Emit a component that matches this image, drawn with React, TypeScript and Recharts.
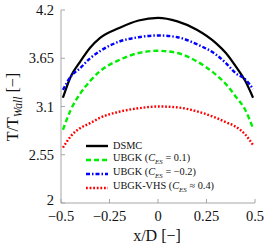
import { LineChart, Line, XAxis, YAxis, Legend } from "recharts";

const xPos = [-0.49, -0.45, -0.4, -0.35, -0.3, -0.2, -0.1, 0, 0.1, 0.2, 0.3, 0.35, 0.4, 0.45, 0.49];

const dsmc = [3.2, 3.44, 3.615, 3.77, 3.88, 3.995, 4.08, 4.11, 4.07, 3.975, 3.82, 3.71, 3.56, 3.39, 3.2];
const ubgkPos = [2.835, 3.06, 3.25, 3.39, 3.5, 3.63, 3.71, 3.735, 3.71, 3.615, 3.46, 3.355, 3.215, 3.06, 2.85];
const ubgkNeg = [3.29, 3.44, 3.54, 3.65, 3.73, 3.84, 3.89, 3.91, 3.89, 3.81, 3.69, 3.595, 3.48, 3.41, 3.3];
const ubgkVhs = [2.63, 2.76, 2.855, 2.91, 2.97, 3.04, 3.08, 3.1, 3.09, 3.045, 2.97, 2.92, 2.87, 2.78, 2.66];

const xTicks = [-0.5, -0.25, 0, 0.25, 0.5];
const yTicks = [2, 2.55, 3.1, 3.65, 4.2];

const data = xPos.map((x, i) => ({
  x,
  dsmc: dsmc[i],
  ubgkPos: ubgkPos[i],
  ubgkNeg: ubgkNeg[i],
  ubgkVhs: ubgkVhs[i],
}));

const FONT = "'Liberation Serif', serif";
const GRAY = "#a6a6a6";

const fmt = (v: number) => (v < 0 ? "\u2212" + Math.abs(v) : String(v));

// lowest y label is nudged up a touch so it doesn't collide with "−0.5"
function YTick(props: any) {
  const { x, y, payload } = props;
  const shift = payload.value === yTicks[0] ? -3 : 0;
  return (
    <text x={x} y={y + shift} dy="0.355em" textAnchor="end" fill="#111" fontFamily={FONT} fontSize={14.5}>
      {fmt(payload.value)}
    </text>
  );
}

const legendRows = [
  { color: "#000000", dash: undefined, text: "DSMC", sub: null },
  { color: "#00ee00", dash: "5 3", text: "UBGK (", sub: "= 0.1)" },
  { color: "#0000ff", dash: "4 2 1.5 2", text: "UBGK (", sub: "= \u22120.2)" },
  { color: "#ff0000", dash: "1.8 1.8", text: "UBGK-VHS (", sub: "\u2248 0.4)" },
];

function renderLegend() {
  return (
    <div style={{ fontFamily: FONT, fontSize: 10.3, color: "#111" }}>
      {legendRows.map((r, i) => (
        <div key={i} style={{ display: "flex", alignItems: "center", height: 14, whiteSpace: "nowrap" }}>
          <svg width={22} height={6} style={{ marginRight: 5 }}>
            <line x1={0} y1={3} x2={22} y2={3} stroke={r.color} strokeWidth={2.4} strokeDasharray={r.dash} />
          </svg>
          <span>
            {r.text}
            {r.sub !== null && (
              <>
                <i>C</i>
                <sub style={{ fontSize: 7 }}>
                  <i>ES</i>
                </sub>{" "}
                {r.sub}
              </>
            )}
          </span>
        </div>
      ))}
    </div>
  );
}

export default function App() {
  return (
    <div style={{ position: "absolute", left: 0, top: 0 }}>
      <LineChart width={270} height={250} data={data} margin={{ top: 10, right: 15, left: 0, bottom: 0 }}>
        <XAxis
          dataKey="x"
          type="number"
          domain={[-0.5, 0.5]}
          ticks={xTicks}
          tickFormatter={fmt}
          height={47}
          tickSize={-4}
          tickMargin={12}
          stroke={GRAY}
          tick={{ fill: "#111", fontFamily: FONT, fontSize: 14.5 }}
          allowDataOverflow
        />
        <XAxis
          xAxisId="top"
          dataKey="x"
          type="number"
          orientation="top"
          domain={[-0.5, 0.5]}
          ticks={xTicks}
          height={0}
          tickSize={-4}
          tick={false}
          stroke={GRAY}
        />
        <YAxis
          type="number"
          domain={[2, 4.2]}
          ticks={yTicks}
          width={61}
          tickSize={-4}
          tickMargin={11}
          stroke={GRAY}
          tick={YTick}
          allowDataOverflow
        />
        <YAxis
          yAxisId="right"
          type="number"
          orientation="right"
          domain={[2, 4.2]}
          ticks={yTicks}
          width={0}
          tickSize={-4}
          tick={false}
          stroke={GRAY}
        />
        <Legend
          layout="vertical"
          align="center"
          verticalAlign="middle"
          content={renderLegend}
          wrapperStyle={{ left: 86, top: 138.5, width: "auto" }}
        />
        <Line type="monotone" dataKey="dsmc" stroke="#000000" strokeWidth={2.2} dot={false} isAnimationActive={false} />
        <Line type="monotone" dataKey="ubgkPos" stroke="#00ee00" strokeWidth={2.4} strokeDasharray="5 3" dot={false} isAnimationActive={false} />
        <Line type="monotone" dataKey="ubgkNeg" stroke="#0000ff" strokeWidth={2.4} strokeDasharray="4 2 1.5 2" dot={false} isAnimationActive={false} />
        <Line type="monotone" dataKey="ubgkVhs" stroke="#ff0000" strokeWidth={2.4} strokeDasharray="1.8 1.8" dot={false} isAnimationActive={false} />
        <text x={0} y={0} transform="translate(18,107) rotate(-90)" textAnchor="middle" fontFamily={FONT} fontSize={16} fill="#111">
          T/T<tspan fontSize={11.5} fontStyle="italic" dy={3.5}>Wall</tspan>
          <tspan dy={-3.5}> [&#x2212;]</tspan>
        </text>
        <text x={157} y={241} textAnchor="middle" fontFamily={FONT} fontSize={16} fill="#111">
          x/D [&#x2212;]
        </text>
      </LineChart>
    </div>
  );
}
